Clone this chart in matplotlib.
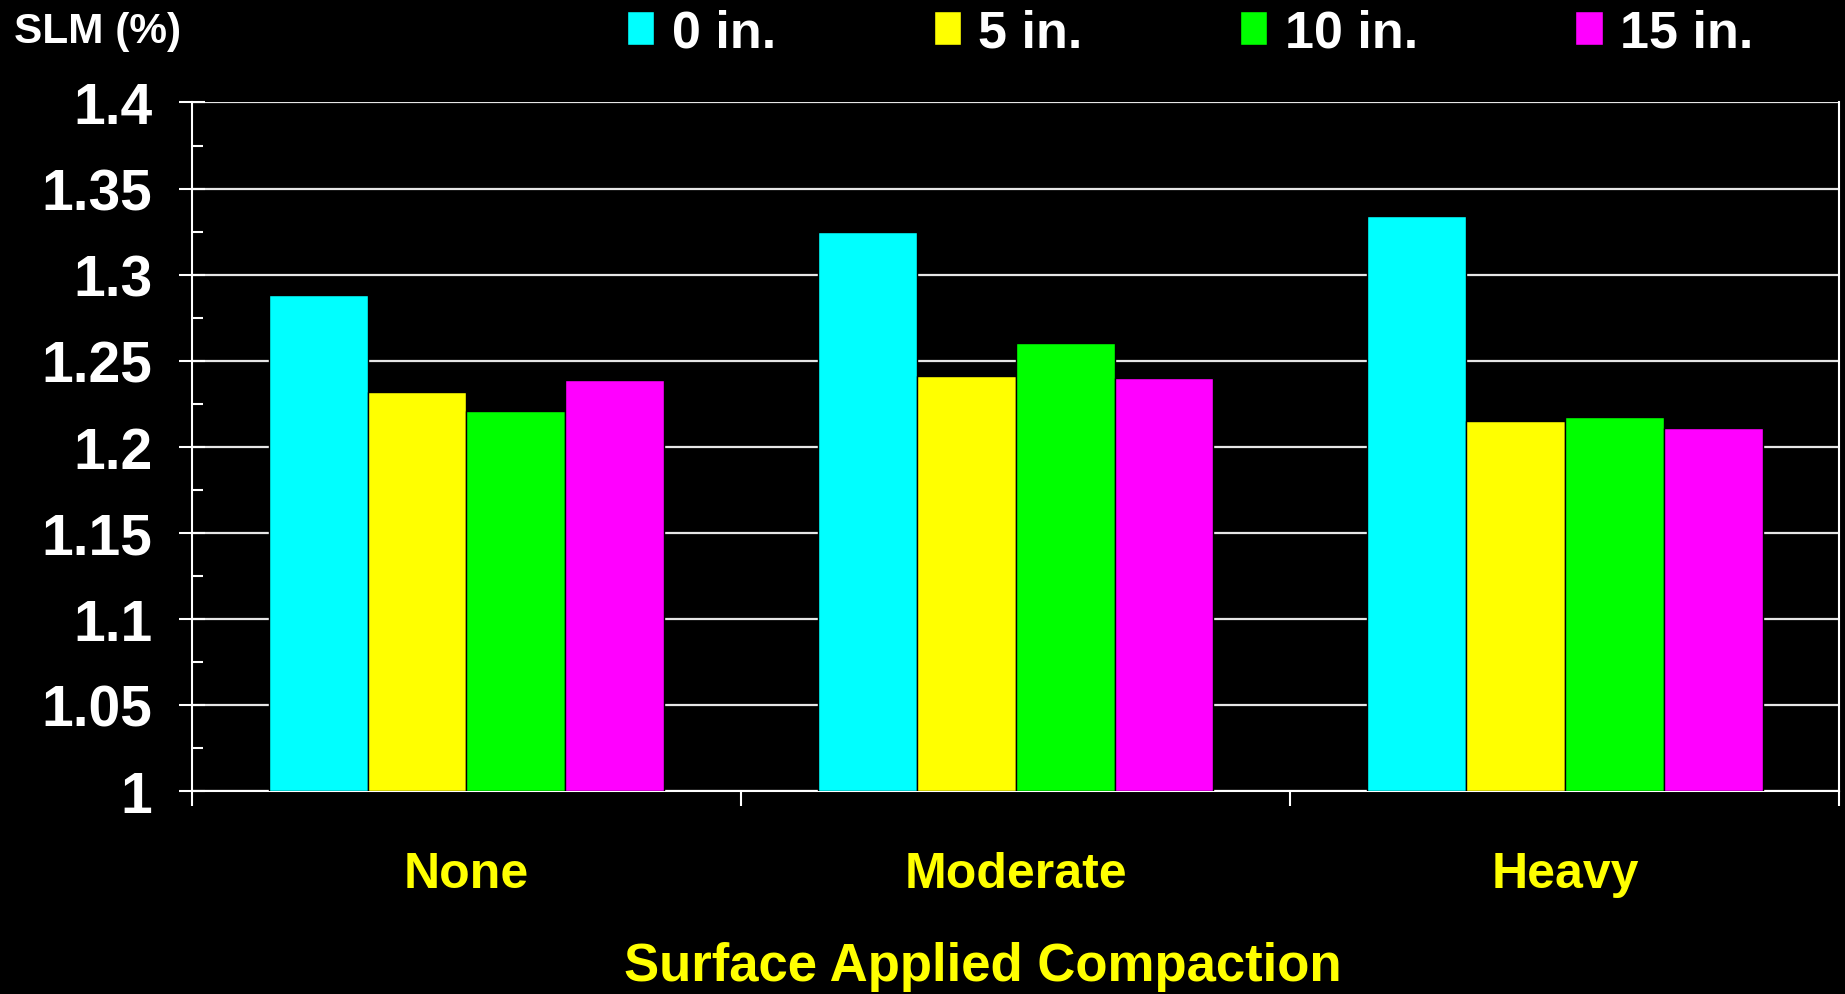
import numpy as np
import matplotlib.pyplot as plt
from matplotlib.ticker import MultipleLocator, FixedLocator

plt.rcParams["font.family"] = ["Liberation Sans", "DejaVu Sans"]
plt.rcParams["font.weight"] = "bold"

categories = ["None", "Moderate", "Heavy"]
depths = ["0 in.", "5 in.", "10 in.", "15 in."]
slm_0in = [1.288, 1.325, 1.334]
slm_5in = [1.232, 1.241, 1.215]
slm_10in = [1.221, 1.260, 1.217]
slm_15in = [1.239, 1.240, 1.211]
colors = ["#00ffff", "#ffff00", "#00ff00", "#ff00ff"]

series = [slm_0in, slm_5in, slm_10in, slm_15in]

fig = plt.figure(figsize=(18.45, 9.95), dpi=100, facecolor="black")
ax = fig.add_axes([0.104, 0.204, 0.893, 0.692], facecolor="black")

x = np.arange(len(categories))
width = 0.18
for i, (vals, col, lab) in enumerate(zip(series, colors, depths)):
    ax.bar(x + (i - 1.5) * width, np.array(vals) - 1.0, width, bottom=1.0,
           color=col, edgecolor="black", linewidth=1, label=lab, zorder=3)

ax.set_xlim(-0.5, 2.5)
ax.set_ylim(1.0, 1.4)

ax.yaxis.set_minor_locator(MultipleLocator(0.025))
ax.set_yticks([1.0, 1.05, 1.1, 1.15, 1.2, 1.25, 1.3, 1.35, 1.4])
ax.set_yticklabels(["1", "1.05", "1.1", "1.15", "1.2", "1.25", "1.3", "1.35", "1.4"])
ax.tick_params(axis="y", which="major", direction="inout", length=19, width=1.5,
               color="white", labelcolor="white", labelsize=41, pad=19)
ax.tick_params(axis="y", which="minor", direction="in", length=8, width=1.5, color="white")

ax.xaxis.set_major_locator(FixedLocator([-0.5, 0.5, 1.5, 2.5]))
ax.xaxis.set_minor_locator(FixedLocator(x))
ax.set_xticklabels([])
ax.set_xticklabels(categories, minor=True)
ax.tick_params(axis="x", which="major", direction="out", length=11, width=1.5, color="white")
ax.tick_params(axis="x", which="minor", length=0, labelcolor="#ffff00", labelsize=36, pad=43)

ax.grid(axis="y", which="major", color="#e6e6e6", linewidth=1.6, zorder=0)
ax.set_axisbelow(True)

for side in ["left", "bottom", "right"]:
    ax.spines[side].set_color("white")
    ax.spines[side].set_linewidth(1.5)
ax.spines["top"].set_visible(False)

ax.set_xlabel("Surface Applied Compaction", color="#ffff00", fontsize=38,
              fontweight="bold", labelpad=32, x=0.48)

fig.text(0.0076, 0.968, "SLM (%)", color="white", fontsize=30.5, va="center", ha="left")

fig.legend(loc="center left", bbox_to_anchor=(0.340, 0.966), ncol=4, frameon=False,
           fontsize=37.5, labelcolor="white", handlelength=0.52, handleheight=0.6,
           handletextpad=0.34, columnspacing=3.02, borderpad=0, borderaxespad=0)

fig.savefig("out.png", dpi=100, facecolor="black")
